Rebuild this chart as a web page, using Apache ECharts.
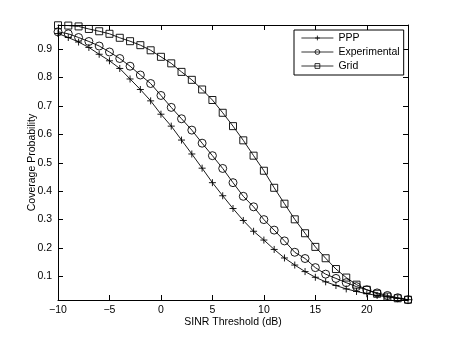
<!DOCTYPE html>
<html>
<head>
<meta charset="utf-8">
<script src="https://cdn.jsdelivr.net/npm/echarts@6/dist/echarts.min.js"></script>
<style>
  html, body { margin: 0; padding: 0; background: #fff; }
  #chart { width: 450px; height: 338px; }
</style>
</head>
<body>
<div id="chart"></div>
<script>
// SINR threshold (dB), one point per integer
const sinr = [-10, -9, -8, -7, -6, -5, -4, -3, -2, -1, 0, 1, 2, 3, 4, 5, 6, 7, 8, 9, 10,
  11, 12, 13, 14, 15, 16, 17, 18, 19, 20, 21, 22, 23, 24];

const ppp = [0.955, 0.941, 0.925, 0.906, 0.882, 0.859, 0.832, 0.795, 0.758, 0.718, 0.671,
  0.629, 0.580, 0.531, 0.481, 0.430, 0.384, 0.339, 0.297, 0.259, 0.228,
  0.195, 0.165, 0.140, 0.117, 0.097, 0.081, 0.068, 0.056, 0.047, 0.039,
  0.033, 0.028, 0.023, 0.018];

const experimental = [0.961, 0.954, 0.941, 0.927, 0.911, 0.890, 0.867, 0.840, 0.809, 0.779, 0.737,
  0.695, 0.655, 0.615, 0.569, 0.525, 0.480, 0.430, 0.382, 0.345, 0.300,
  0.263, 0.225, 0.185, 0.163, 0.131, 0.108, 0.093, 0.078, 0.064, 0.053,
  0.042, 0.033, 0.025, 0.018];

const gridModel = [0.984, 0.983, 0.980, 0.971, 0.963, 0.954, 0.940, 0.928, 0.914, 0.896, 0.873,
  0.850, 0.820, 0.792, 0.758, 0.721, 0.676, 0.629, 0.579, 0.525, 0.472,
  0.412, 0.356, 0.301, 0.252, 0.204, 0.164, 0.126, 0.096, 0.071, 0.053,
  0.039, 0.029, 0.023, 0.018];

const xTicks = [-10, -5, 0, 5, 10, 15, 20];
const yTicks = [0.1, 0.2, 0.3, 0.4, 0.5, 0.6, 0.7, 0.8, 0.9];

const font = "'Liberation Sans', Arial, sans-serif";
const fontSize = 10.5;

function pairs(values) {
  return sinr.map((x, i) => [x, values[i]]);
}

function fmtX(v) {
  return v < 0 ? "\u2212" + Math.abs(v) : String(v);
}

const chart = echarts.init(document.getElementById("chart"));

const tickStyle = { inside: true, length: 5, lineStyle: { color: "#000", width: 1 } };
const axisLineStyle = { show: true, onZero: false, lineStyle: { color: "#000", width: 1 } };

function lineSeries(name, values, symbol, size) {
  return {
    name: name,
    type: "line",
    data: pairs(values),
    symbol: symbol,
    symbolSize: size,
    showAllSymbol: true,
    lineStyle: { color: "#000", width: 0.9 },
    itemStyle: { color: "transparent", borderColor: "#000", borderWidth: 0.9 },
    emphasis: { disabled: true },
  };
}

chart.setOption({
  animation: false,
  textStyle: { fontFamily: font },
  grid: {
    left: 58,
    right: 42,
    top: 25,
    bottom: 38,
  },
  legend: {
    orient: "vertical",
    left: 294,
    top: 30,
    backgroundColor: "#fff",
    borderColor: "#000",
    borderWidth: 1,
    padding: [2, 4, 3, 7],
    itemGap: 2,
    itemWidth: 32,
    itemHeight: 6,
    lineStyle: { width: 0.8, color: "#000" },
    itemStyle: { borderWidth: 0.8, borderColor: "#000", color: "transparent" },
    textStyle: { fontFamily: font, fontSize: fontSize, color: "#000", lineHeight: 12 },
    data: ["PPP", "Experimental", "Grid"],
  },
  xAxis: [
    {
      type: "value",
      min: -10,
      max: 24,
      name: "SINR Threshold (dB)",
      nameLocation: "middle",
      nameGap: 17,
      nameMoveOverlap: false,
      nameTextStyle: { fontFamily: font, fontSize: fontSize, color: "#000" },
      axisLine: axisLineStyle,
      axisTick: Object.assign({ customValues: xTicks }, tickStyle),
      axisLabel: {
        customValues: xTicks,
        formatter: fmtX,
        color: "#000",
        fontFamily: font,
        fontSize: fontSize,
        margin: 5,
      },
      splitLine: { show: false },
    },
    {
      type: "value",
      min: -10,
      max: 24,
      position: "top",
      axisLine: axisLineStyle,
      axisTick: Object.assign({ customValues: xTicks }, tickStyle),
      axisLabel: { show: false },
      splitLine: { show: false },
    },
  ],
  yAxis: [
    {
      type: "value",
      min: 0.017,
      max: 0.985,
      name: "Coverage Probability",
      nameLocation: "middle",
      nameGap: 20,
      nameMoveOverlap: false,
      nameTextStyle: { fontFamily: font, fontSize: fontSize, color: "#000" },
      axisLine: axisLineStyle,
      axisTick: Object.assign({ customValues: yTicks }, tickStyle),
      axisLabel: {
        customValues: yTicks,
        formatter: (v) => v.toFixed(1),
        color: "#000",
        fontFamily: font,
        fontSize: fontSize,
        margin: 6,
      },
      splitLine: { show: false },
    },
    {
      type: "value",
      min: 0.017,
      max: 0.985,
      position: "right",
      axisLine: axisLineStyle,
      axisTick: Object.assign({ customValues: yTicks }, tickStyle),
      axisLabel: { show: false },
      splitLine: { show: false },
    },
  ],
  series: [
    lineSeries("PPP", ppp, "path://M5,0L5,10M0,5L10,5", 7),
    lineSeries("Experimental", experimental, "circle", 8),
    lineSeries("Grid", gridModel, "rect", 7),
  ],
});
</script>
</body>
</html>
